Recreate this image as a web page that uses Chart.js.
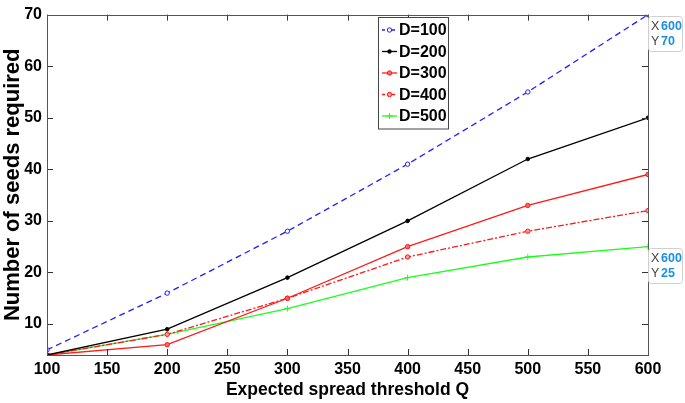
<!DOCTYPE html>
<html>
<head>
<meta charset="utf-8">
<script src="https://cdn.jsdelivr.net/npm/chart.js@4"></script>
<style>
  html, body { margin: 0; padding: 0; background: #fff; }
  #wrap { width: 685px; height: 403px; }
</style>
</head>
<body>
<div id="wrap"><canvas id="chart"></canvas></div>
<script>
// ===== data =====
const thresholds = [100, 200, 300, 400, 500, 600];
const seedsD100 = [5, 16, 28, 41, 55, 70];
const seedsD200 = [4, 9, 19, 30, 42, 50];
const seedsD300 = [4, 6, 15, 25, 33, 39];
const seedsD400 = [4, 8, 15, 23, 28, 32];
const seedsD500 = [4, 8, 13, 19, 23, 25];
const yTickValues = [10, 20, 30, 40, 50, 60, 70];
const xTickValues = [100, 150, 200, 250, 300, 350, 400, 450, 500, 550, 600];
// data tips shown at the right edge: [datasetIndex, pointIndex]
const dataTips = [[0, 5], [4, 5]];

const FONT = "'Liberation Sans', Arial, Helvetica, sans-serif";

function toPoints(values) {
    return thresholds.map((x, i) => ({ x, y: values[i] }));
}

const datasets = [
    { label: 'D=100', data: toPoints(seedsD100), borderColor: '#1f1fff', borderDash: [6, 4],
      pointStyle: 'circle', pointRadius: 2.2, pointBackgroundColor: '#fff', pointBorderColor: '#1f1fff' },
    { label: 'D=200', data: toPoints(seedsD200), borderColor: '#000',
      pointStyle: 'circle', pointRadius: 1.8, pointBackgroundColor: '#000', pointBorderColor: '#000' },
    { label: 'D=300', data: toPoints(seedsD300), borderColor: '#ff1a1a',
      pointStyle: 'circle', pointRadius: 2.2, pointBackgroundColor: '#ff6666', pointBorderColor: '#ff1a1a' },
    { label: 'D=400', data: toPoints(seedsD400), borderColor: '#ff1a1a', borderDash: [6, 2, 2, 2],
      pointStyle: 'circle', pointRadius: 2.2, pointBackgroundColor: '#ff9999', pointBorderColor: '#ff1a1a' },
    { label: 'D=500', data: toPoints(seedsD500), borderColor: '#1aff1a',
      pointStyle: 'cross', pointRadius: 3, pointBackgroundColor: '#1aff1a', pointBorderColor: '#1aff1a' }
].map(ds => ({ ...ds, borderWidth: 1.3, pointBorderWidth: 1, tension: 0, fill: false }));

/**
 * MATLAB style box with inward ticks on all four sides
 */
const boxPlugin = {
    id: 'box',
    afterDatasetsDraw(chart) {
        const { ctx, chartArea: a, scales } = chart;
        ctx.save();
        ctx.strokeStyle = '#333';
        ctx.lineWidth = 1;
        const len = 6;
        ctx.beginPath();
        xTickValues.forEach(v => {
            const px = Math.round(scales.x.getPixelForValue(v)) + 0.5;
            ctx.moveTo(px, a.bottom); ctx.lineTo(px, a.bottom - len);
            ctx.moveTo(px, a.top); ctx.lineTo(px, a.top + len);
        });
        yTickValues.forEach(v => {
            const py = Math.round(scales.y.getPixelForValue(v)) + 0.5;
            ctx.moveTo(a.left, py); ctx.lineTo(a.left + len, py);
            ctx.moveTo(a.right, py); ctx.lineTo(a.right - len, py);
        });
        ctx.stroke();
        ctx.strokeStyle = '#555';
        ctx.strokeRect(Math.round(a.left) + 0.5, Math.round(a.top) + 0.5,
            Math.round(a.right - a.left), Math.round(a.bottom - a.top));
        ctx.restore();
    }
};

/**
 * Legend box drawn inside the plot, using the dataset styles
 */
const legendPlugin = {
    id: 'innerLegend',
    afterDraw(chart) {
        const { ctx } = chart;
        const x0 = 378, y0 = 17, w = 70, rowH = 21.5;
        ctx.save();
        ctx.fillStyle = '#fff';
        ctx.fillRect(x0, y0, w, rowH * 5 + 4);
        ctx.strokeStyle = '#444';
        ctx.lineWidth = 1;
        ctx.strokeRect(x0 + 0.5, y0 + 0.5, w, rowH * 5 + 4);
        chart.data.datasets.forEach((ds, i) => {
            const cy = y0 + 13 + i * rowH;
            ctx.strokeStyle = ds.borderColor;
            ctx.lineWidth = 1.3;
            ctx.setLineDash(ds.borderDash ? [3, 2] : []);
            ctx.beginPath();
            ctx.moveTo(x0 + 4, cy); ctx.lineTo(x0 + 19, cy);
            ctx.stroke();
            ctx.setLineDash([]);
            ctx.fillStyle = ds.pointBackgroundColor;
            ctx.lineWidth = 1;
            Chart.helpers.drawPoint(ctx, { pointStyle: ds.pointStyle, radius: ds.pointRadius, borderWidth: 1 }, x0 + 11.5, cy);
            ctx.fillStyle = '#000';
            ctx.font = 'bold 16px ' + FONT;
            ctx.textBaseline = 'middle';
            ctx.fillText(ds.label, x0 + 21, cy + 1);
        });
        ctx.restore();
    }
};

/**
 * Data tip boxes (X / Y) next to selected points
 */
const tipPlugin = {
    id: 'dataTips',
    afterDraw(chart) {
        const { ctx, scales } = chart;
        ctx.save();
        dataTips.forEach(([di, pi]) => {
            const p = chart.data.datasets[di].data[pi];
            const px = Math.round(scales.x.getPixelForValue(p.x));
            const py = Math.round(scales.y.getPixelForValue(p.y));
            const bx = px, by = py + 1, bw = 34, bh = 35;
            ctx.fillStyle = '#fff';
            ctx.strokeStyle = '#cfcfcf';
            ctx.lineWidth = 1;
            ctx.beginPath();
            ctx.roundRect(bx + 0.5, by + 0.5, bw, bh, 3);
            ctx.fill();
            ctx.stroke();
            ctx.font = '12.5px ' + FONT;
            ctx.textBaseline = 'middle';
            ctx.fillStyle = '#444';
            ctx.fillText('X', bx + 3, by + 11);
            ctx.fillText('Y', bx + 3, by + 26);
            ctx.fillStyle = '#1a8fe0';
            ctx.font = 'bold 12.5px ' + FONT;
            ctx.fillText(String(p.x), bx + 13, by + 11);
            ctx.fillText(String(p.y), bx + 13, by + 26);
        });
        ctx.restore();
    }
};

new Chart(document.getElementById('chart'), {
    type: 'line',
    data: { datasets },
    options: {
        responsive: true,
        maintainAspectRatio: false,
        animation: false,
        layout: { padding: { top: 5, right: 37, left: 0, bottom: 0 } },
        plugins: { legend: { display: false }, tooltip: { enabled: false } },
        scales: {
            x: {
                type: 'linear',
                min: 100,
                max: 600,
                afterBuildTicks: s => { s.ticks = xTickValues.map(v => ({ value: v })); },
                afterFit: s => { s.height = 48; },
                grid: { display: false, drawTicks: false },
                border: { display: false },
                ticks: { color: '#000', padding: 5, maxRotation: 0, autoSkip: false,
                         font: { family: FONT, size: 16, weight: 'bold' } },
                title: { display: true, text: 'Expected spread threshold Q', color: '#000', padding: { top: 0, bottom: 2 },
                         font: { family: FONT, size: 17.5, weight: 'bold' } }
            },
            y: {
                min: 4,
                max: 70,
                afterBuildTicks: s => { s.ticks = yTickValues.map(v => ({ value: v })); },
                afterFit: s => { s.width = 47; },
                grid: { display: false, drawTicks: false },
                border: { display: false },
                ticks: { color: '#000', padding: 5, autoSkip: false,
                         font: { family: FONT, size: 16, weight: 'bold' } },
                title: { display: true, text: 'Number of seeds required', color: '#000', padding: 0,
                         font: { family: FONT, size: 22, weight: 'bold' } }
            }
        }
    },
    plugins: [boxPlugin, legendPlugin, tipPlugin]
});
</script>
</body>
</html>
